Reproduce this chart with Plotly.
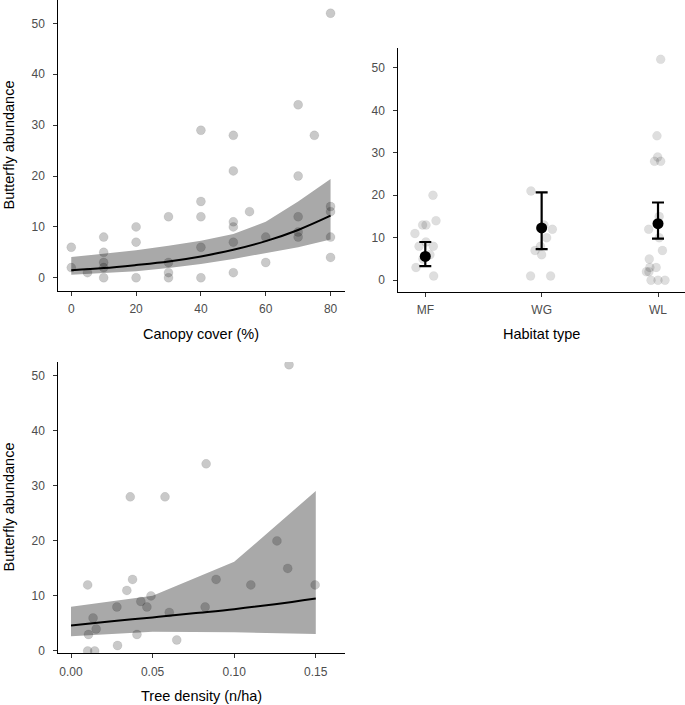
import plotly.graph_objects as go

# ---------------- data ----------------
# Panel A: canopy cover vs abundance
canopy_x = [0, 0, 5, 10, 10, 10, 10, 10, 20, 20, 20, 30, 30, 30, 30,
            40, 40, 40, 40, 40, 50, 50, 50, 50, 50, 50, 55, 60, 60,
            70, 70, 70, 70, 70, 75, 80, 80, 80, 80, 80]
canopy_y = [6, 2, 1, 8, 5, 3, 2, 0, 10, 7, 0, 12, 3, 1, 0,
            29, 15, 12, 6, 0, 28, 21, 11, 10, 7, 1, 13, 8, 3,
            34, 20, 12, 9, 8, 28, 52, 14, 13, 8, 4]
canopy_fit_x = [0, 10, 20, 30, 40, 50, 60, 70, 80]
canopy_fit = [1.5, 1.9, 2.5, 3.2, 4.2, 5.5, 7.2, 9.4, 12.2]
canopy_lo = [0.6, 0.9, 1.3, 1.9, 2.7, 3.7, 4.85, 6.0, 7.5]
canopy_hi = [4.06, 4.7, 5.4, 6.3, 7.3, 8.6, 11.0, 15.0, 19.4]

# Panel B: habitat type
habitat_cats = ["MF", "WG", "WL"]
hab_group = (["MF"] * 12) + (["WG"] * 9) + (["WL"] * 17)
hab_jitter = [0.066, 0.092, -0.023, 0.006, -0.089, -0.054, 0.005, 0.069, -0.08, 0.072, -0.02, 0.04,
              -0.092, 0.02, 0.092, 0.043, -0.057, 0.0, -0.095, 0.077, -0.01,
              0.023, -0.009, -0.003, -0.03, 0.023, 0.01, -0.08, 0.01, 0.038, -0.075, -0.1, -0.078, -0.016, -0.07, -0.06, 0.0, 0.06]
hab_y = [20, 14, 13, 13, 11, 8, 9, 8, 3, 1, 5, 6,
         21, 13, 12, 10, 7, 6, 1, 1, 8,
         52, 34, 29, 28, 28, 15, 12, 10, 7, 5, 2, 2, 3, 3, 0, 0, 0]
hab_mean = [5.6, 12.3, 13.3]
hab_lo = [3.3, 7.3, 9.8]
hab_hi = [9.0, 20.7, 18.3]

# Panel C: tree density vs abundance
tree_x = [0.1336, 0.0828, 0.0363, 0.0576, 0.1262, 0.1328, 0.0889, 0.0377, 0.0102,
          0.1102, 0.1496, 0.0342, 0.049, 0.0428, 0.0281, 0.0465, 0.0822, 0.0602,
          0.0135, 0.0154, 0.0107, 0.0404, 0.0648, 0.0285, 0.0102, 0.0145]
tree_y = [52, 34, 28, 28, 20, 15, 13, 13, 12, 12, 12, 11, 10, 9, 8, 8, 8, 7,
          6, 4, 3, 3, 2, 1, 0, 0]
tree_fit_x = [0, 0.025, 0.05, 0.075, 0.10, 0.125, 0.15]
tree_fit = [4.65, 5.4, 6.1, 6.85, 7.6, 8.5, 9.55]
tree_band_x = [0, 0.05, 0.10, 0.15]
tree_lo = [2.7, 3.5, 3.4, 3.1]
tree_hi = [8.05, 10.05, 16.2, 29.05]

y_ticks = [0, 10, 20, 30, 40, 50]

# ---------------- styling ----------------
FONT = "Liberation Sans, Arial, Helvetica, sans-serif"
W, H = 685, 705
RIBBON = "#a9a9a9"
PT = "rgba(0,0,0,0.21)"
PT_LINE = "rgba(0,0,0,0.12)"


def px_dom_x(a, b):
    return [a / W, min(b / W, 1.0)]


def px_dom_y(top, bottom):
    return [1 - bottom / H, 1 - top / H]


fig = go.Figure()

# Panel A
fig.add_trace(go.Scatter(x=canopy_fit_x, y=canopy_lo, mode="lines", line=dict(width=0),
                         showlegend=False, xaxis="x", yaxis="y", hoverinfo="skip"))
fig.add_trace(go.Scatter(x=canopy_fit_x, y=canopy_hi, mode="lines", line=dict(width=0),
                         fill="tonexty", fillcolor=RIBBON, showlegend=False,
                         xaxis="x", yaxis="y", hoverinfo="skip"))
fig.add_trace(go.Scatter(x=canopy_fit_x, y=canopy_fit, mode="lines",
                         line=dict(color="black", width=2, shape="spline"),
                         showlegend=False, xaxis="x", yaxis="y"))
fig.add_trace(go.Scatter(x=canopy_x, y=canopy_y, mode="markers",
                         marker=dict(size=9, color=PT, line=dict(width=0.6, color=PT_LINE)),
                         showlegend=False, xaxis="x", yaxis="y"))

# Panel B
cat_index = {c: i for i, c in enumerate(habitat_cats)}
hab_x = [cat_index[g] + j for g, j in zip(hab_group, hab_jitter)]
fig.add_trace(go.Scatter(x=hab_x, y=hab_y, mode="markers",
                         marker=dict(size=9, color="rgba(0,0,0,0.13)",
                                     line=dict(width=0.6, color="rgba(0,0,0,0.06)")),
                         showlegend=False, xaxis="x2", yaxis="y2"))
fig.add_trace(go.Scatter(x=list(range(len(habitat_cats))), y=hab_mean, mode="markers",
                         marker=dict(size=11, color="black"),
                         error_y=dict(type="data", symmetric=False,
                                      array=[h - m for h, m in zip(hab_hi, hab_mean)],
                                      arrayminus=[m - l for m, l in zip(hab_mean, hab_lo)],
                                      color="black", thickness=2.2, width=6),
                         showlegend=False, xaxis="x2", yaxis="y2"))

# Panel C
fig.add_trace(go.Scatter(x=tree_band_x, y=tree_lo, mode="lines", line=dict(width=0),
                         showlegend=False, xaxis="x3", yaxis="y3", hoverinfo="skip"))
fig.add_trace(go.Scatter(x=tree_band_x, y=tree_hi, mode="lines", line=dict(width=0),
                         fill="tonexty", fillcolor=RIBBON, showlegend=False,
                         xaxis="x3", yaxis="y3", hoverinfo="skip"))
fig.add_trace(go.Scatter(x=tree_fit_x, y=tree_fit, mode="lines",
                         line=dict(color="black", width=2, shape="spline"),
                         showlegend=False, xaxis="x3", yaxis="y3"))
fig.add_trace(go.Scatter(x=tree_x, y=tree_y, mode="markers",
                         marker=dict(size=9, color=PT, line=dict(width=0.6, color=PT_LINE)),
                         showlegend=False, xaxis="x3", yaxis="y3"))

axis_common = dict(showline=True, linecolor="black", linewidth=1.1, showgrid=False,
                   zeroline=False, ticks="outside", ticklen=4, tickwidth=1.1,
                   tickcolor="#333333", tickfont=dict(family=FONT, size=12, color="#4d4d4d"),
                   automargin=False, mirror=False)
x_common = dict(axis_common, ticklabelstandoff=3)
y_common = dict(axis_common, ticklabelstandoff=6)

fig.update_layout(
    width=W, height=H, plot_bgcolor="white", paper_bgcolor="white",
    margin=dict(l=0, r=0, t=0, b=0), showlegend=False,
    font=dict(family=FONT),
    xaxis=dict(domain=px_dom_x(58.3, 344.5), range=[-4, 84.3], tickvals=[0, 20, 40, 60, 80],
               anchor="y", **x_common),
    yaxis=dict(domain=px_dom_y(0, 291), range=[-2.6, 54.6], tickvals=y_ticks,
               anchor="x", **y_common),
    xaxis2=dict(domain=px_dom_x(398.3, 685), range=[-0.232, 2.232], tickvals=[0, 1, 2],
                ticktext=habitat_cats, anchor="y2", **x_common),
    yaxis2=dict(domain=px_dom_y(48.3, 291.7), range=[-2.7, 54.6], tickvals=y_ticks,
                anchor="x2", **y_common),
    xaxis3=dict(domain=px_dom_x(58.3, 344.5), range=[-0.0078, 0.1676],
                tickvals=[0, 0.05, 0.10, 0.15], ticktext=["0.00", "0.05", "0.10", "0.15"],
                anchor="y3", **x_common),
    yaxis3=dict(domain=px_dom_y(362, 653.3), range=[-0.42, 52.5], tickvals=y_ticks,
                anchor="x3", **y_common),
)

title_font = dict(family=FONT, size=14.5, color="black")
annos = [
    dict(text="Butterfly abundance", x=8 / W, y=1 - 145.5 / H, textangle=-90),
    dict(text="Butterfly abundance", x=8 / W, y=1 - 507.5 / H, textangle=-90),
    dict(text="Canopy cover (%)", x=201 / W, y=1 - 334.3 / H, textangle=0),
    dict(text="Habitat type", x=541.7 / W, y=1 - 334.3 / H, textangle=0),
    dict(text="Tree density (n/ha)", x=201 / W, y=1 - 696 / H, textangle=0),
]
for a in annos:
    fig.add_annotation(xref="paper", yref="paper", showarrow=False, font=title_font,
                       xanchor="center", yanchor="middle", **a)

fig.write_html("out.html", config={"displayModeBar": False},
               post_script="document.body.style.margin='0';document.body.style.overflow='hidden';")
